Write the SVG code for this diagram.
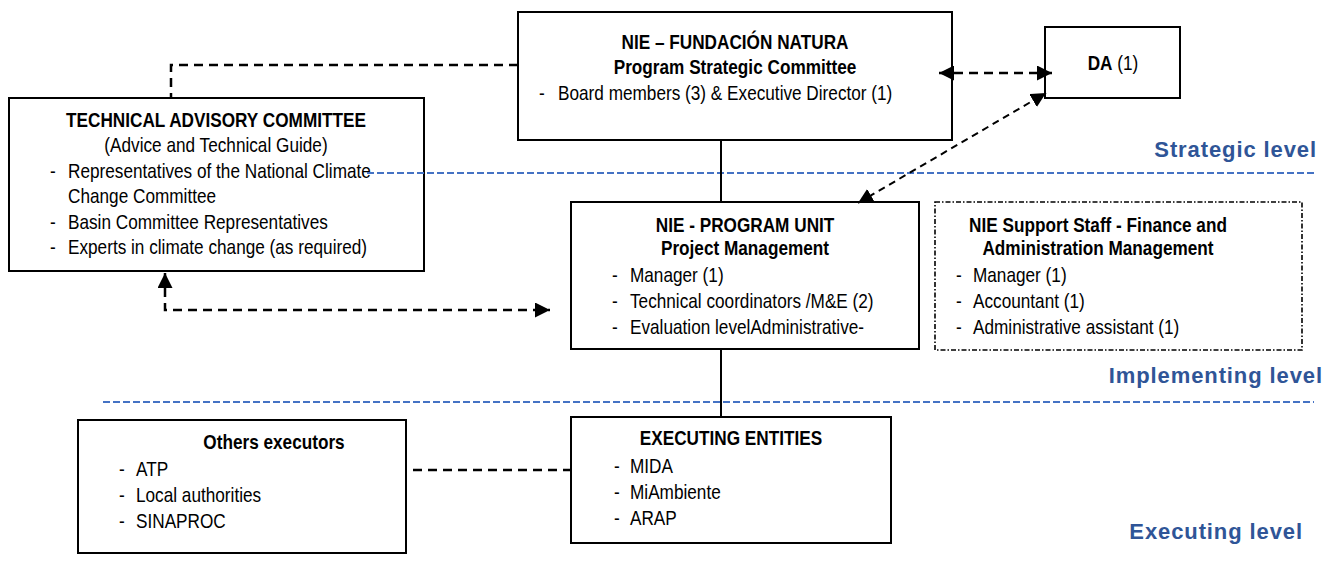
<svg xmlns="http://www.w3.org/2000/svg" width="1335" height="565" viewBox="0 0 1335 565">
<style>
.box{fill:#fff;stroke:#000;stroke-width:2}
.dd{fill:#fff;stroke:#000;stroke-width:1.6;stroke-dasharray:5 2 1.5 2}
text{font-family:"Liberation Sans",Arial,sans-serif;font-size:20px;fill:#000;transform-box:fill-box;transform-origin:0% 50%;transform:scaleX(0.86)}
.b{font-weight:bold}
.c{text-anchor:middle;transform-origin:50% 50%}
text.lvl{font-size:22px;font-weight:bold;fill:#2F5597;text-anchor:end;letter-spacing:0.9px;transform:none}
.solid{stroke:#000;stroke-width:2;fill:none}
.dash{stroke:#000;stroke-width:2.5;fill:none;stroke-dasharray:9 6}
.dash2{stroke:#000;stroke-width:2;fill:none;stroke-dasharray:7 5}
.blue{stroke:#4472C4;stroke-width:2;fill:none;stroke-dasharray:7 3}
</style>
<defs>
<marker id="ah" viewBox="0 0 10 10" refX="10" refY="5" markerWidth="15" markerHeight="15" markerUnits="userSpaceOnUse" orient="auto-start-reverse">
<path d="M0,0 L10,5 L0,10 z" fill="#000"/>
</marker>
</defs>

<g id="nie-fundacion">
<rect class="box" x="518" y="12" width="434" height="128"/>
<text class="b c" x="735" y="49">NIE – FUNDACIÓN NATURA</text>
<text class="b c" x="735" y="74">Program Strategic Committee</text>
<text x="539" y="100">-</text>
<text x="558" y="100">Board members (3) &amp; Executive Director (1)</text>
</g>

<g id="da">
<rect class="box" x="1045" y="27" width="135" height="71"/>
<text class="c" x="1113" y="70"><tspan class="b">DA</tspan> (1)</text>
</g>

<g id="tac">
<rect class="box" x="9" y="98" width="415" height="173"/>
<text class="b c" x="216" y="127">TECHNICAL ADVISORY COMMITTEE</text>
<text class="c" x="216" y="152">(Advice and Technical Guide)</text>
<text x="50" y="178">-</text>
<text x="68" y="178">Representatives of the National Climate</text>
<text x="68" y="203">Change Committee</text>
<text x="50" y="229">-</text>
<text x="68" y="229">Basin Committee Representatives</text>
<text x="50" y="254">-</text>
<text x="68" y="254">Experts in climate change (as required)</text>
</g>

<g id="program-unit">
<rect class="box" x="571" y="202" width="348" height="147"/>
<text class="b c" x="745" y="232">NIE - PROGRAM UNIT</text>
<text class="b c" x="745" y="255">Project Management</text>
<text x="612" y="282">-</text>
<text x="630" y="282">Manager (1)</text>
<text x="612" y="308">-</text>
<text x="630" y="308">Technical coordinators /M&amp;E (2)</text>
<text x="612" y="334">-</text>
<text x="630" y="334">Evaluation levelAdministrative-</text>
</g>

<g id="support-staff">
<rect class="dd" x="935" y="202" width="367" height="148"/>
<text class="b c" x="1098" y="232">NIE Support Staff - Finance and</text>
<text class="b c" x="1098" y="255">Administration Management</text>
<text x="956" y="282">-</text>
<text x="973" y="282">Manager (1)</text>
<text x="956" y="308">-</text>
<text x="973" y="308">Accountant (1)</text>
<text x="956" y="334">-</text>
<text x="973" y="334">Administrative assistant (1)</text>
</g>

<g id="others-executors">
<rect class="box" x="78" y="420" width="328" height="133"/>
<text class="b c" x="274" y="449">Others executors</text>
<text x="119" y="476">-</text>
<text x="136" y="476">ATP</text>
<text x="119" y="502">-</text>
<text x="136" y="502">Local authorities</text>
<text x="119" y="528">-</text>
<text x="136" y="528">SINAPROC</text>
</g>

<g id="executing-entities">
<rect class="box" x="571" y="417" width="320" height="126"/>
<text class="b c" x="731" y="445">EXECUTING ENTITIES</text>
<text x="614" y="473">-</text>
<text x="630" y="473">MIDA</text>
<text x="614" y="499">-</text>
<text x="630" y="499">MiAmbiente</text>
<text x="614" y="525">-</text>
<text x="630" y="525">ARAP</text>
</g>

<g id="levels">
<line class="blue" x1="367" y1="173" x2="1316" y2="173"/>
<line class="blue" x1="103" y1="402" x2="1314" y2="402"/>
<text class="lvl" x="1317" y="157">Strategic level</text>
<text class="lvl" x="1323" y="383">Implementing level</text>
<text class="lvl" x="1303" y="539">Executing level</text>
</g>

<g id="connectors">
<line class="solid" x1="721" y1="140" x2="721" y2="202"/>
<line class="solid" x1="721" y1="349" x2="721" y2="417"/>
<path class="dash" d="M518,65 H171 V98"/>
<path class="dash" d="M165,273 V310 H550" marker-start="url(#ah)" marker-end="url(#ah)"/>
<line class="dash" x1="939" y1="73" x2="1052" y2="73" marker-start="url(#ah)" marker-end="url(#ah)"/>
<line class="dash2" x1="858" y1="203" x2="1046" y2="93" marker-start="url(#ah)" marker-end="url(#ah)"/>
<line class="dash" x1="413" y1="470" x2="571" y2="470"/>
</g>
</svg>
